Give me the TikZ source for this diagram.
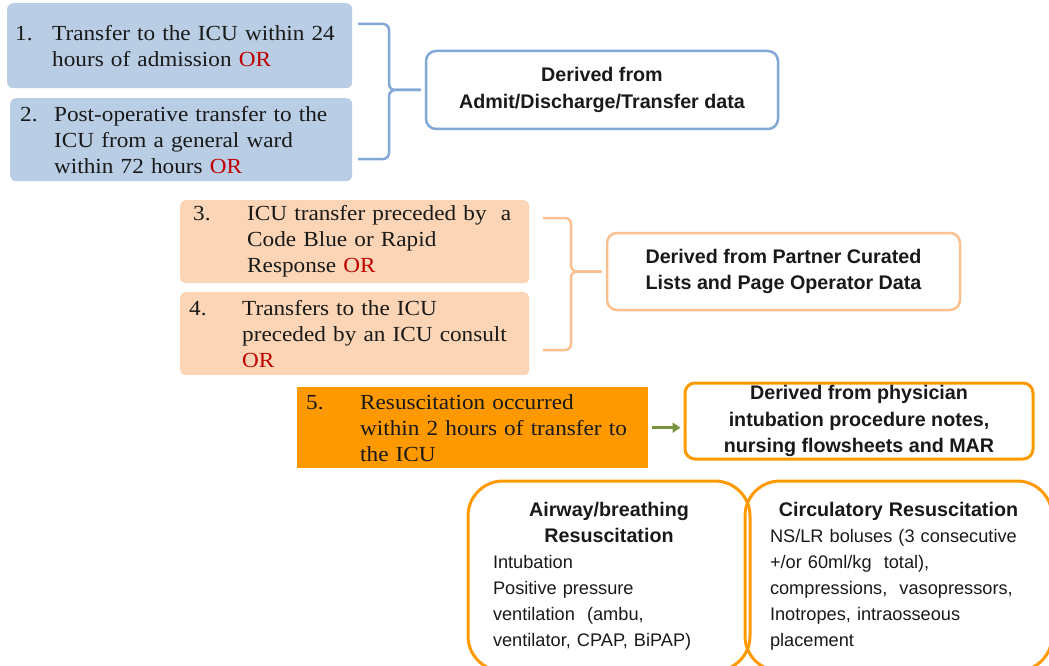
\documentclass[tikz,border=0pt]{standalone}
\usepackage{fontspec}
\setmainfont{Liberation Serif}[FakeStretch=1.08]
\setsansfont{Liberation Sans}
\usetikzlibrary{positioning,calc,arrows.meta}

\definecolor{critblue}{RGB}{185,205,228}
\definecolor{lineblue}{RGB}{130,168,214}
\definecolor{critpeach}{RGB}{251,213,181}
\definecolor{linepeach}{RGB}{250,192,144}
\definecolor{critorange}{RGB}{255,153,0}
\definecolor{arrgreen}{RGB}{119,147,60}
\definecolor{orred}{RGB}{192,0,0}

\newcommand{\OR}{\textcolor{orred}{OR}}
\newcommand{\critnum}[2]{\makebox[#1][l]{#2}}
\newcommand{\resushead}[2]{\makebox[#1]{\fontsize{19.7}{26}\selectfont\bfseries #2}}

\begin{document}
\begin{tikzpicture}[x=1pt, y=-1pt,
  crit/.style = {anchor=north west, inner ysep=0pt, align=left,
    font=\fontsize{21.5}{26}\selectfont, text=black!90},
  src/.style = {draw, line width=2.5pt, fill=white, rounded corners=10pt,
    inner sep=0pt, align=center, text=black!90,
    font=\sffamily\bfseries\fontsize{19.7}{26.5}\selectfont},
  resus/.style = {draw=critorange, line width=3pt, rounded corners=35pt,
    inner xsep=25pt, inner ysep=0pt, align=left, text=black!90,
    font=\sffamily\fontsize{18.2}{26}\selectfont,
    execute at begin node={\hyphenpenalty=10000\relax}},
  brace/.style = {line width=2.5pt, rounded corners=6pt, shorten >=4pt},
  arr/.style = {line width=3pt, arrgreen, -{Triangle[length=8pt,width=10pt]}}
  ]
  \useasboundingbox (0,0) rectangle (1049,666);
  \clip (0,0) rectangle (1049,666);

  % criteria
  \node (crit1) [crit, fill=critblue, rounded corners=6pt, inner xsep=8pt,
    text width=329pt, minimum height=85pt] at (7,3)
    {\critnum{37pt}{1.}Transfer to the ICU within 24\\
     \hspace*{37pt}hours of admission \OR};
  \node (crit2) [crit, fill=critblue, rounded corners=6pt, inner xsep=10pt,
    text width=322pt, minimum height=83pt] at (10,98)
    {\critnum{34pt}{2.}Post-operative transfer to the\\
     \hspace*{34pt}ICU from a general ward\\
     \hspace*{34pt}within 72 hours \OR};
  \node (crit3) [crit, fill=critpeach, rounded corners=5pt, inner xsep=13pt,
    text width=323pt, minimum height=83pt] at (180,200)
    {\critnum{54pt}{3.}ICU transfer preceded by\ \ a\\
     \hspace*{54pt}Code Blue or Rapid\\
     \hspace*{54pt}Response \OR};
  \node (crit4) [crit, fill=critpeach, rounded corners=5pt, inner xsep=9pt,
    text width=331pt, minimum height=83pt] at (180,292)
    {\critnum{53pt}{4.}Transfers to the ICU\\
     \hspace*{53pt}preceded by an ICU consult\\
     \hspace*{53pt}\OR};
  \node (res) [crit, fill=critorange, inner xsep=9pt,
    text width=333pt, minimum height=81pt] at (297,387)
    {\critnum{54pt}{5.}Resuscitation occurred\\
     \hspace*{54pt}within 2 hours of transfer to\\
     \hspace*{54pt}the ICU};

  % data sources
  \node (adt) [src, draw=lineblue, minimum width=352pt, minimum height=78pt]
    at (602,90) {Derived from\\Admit/Discharge/Transfer data};
  \node (pcl) [src, draw=linepeach, minimum width=353pt, minimum height=77pt]
    at (783.5,271.5) {Derived from Partner Curated\\Lists and Page Operator Data};
  \node (phy) [src, draw=critorange, line width=3pt, minimum width=348pt,
    minimum height=76pt] at (859,421)
    {Derived from physician\\intubation procedure notes,\\nursing flowsheets and MAR};

  % resuscitation types
  \node (air) [resus, text width=232pt, minimum height=190pt] at (609,576)
    {\resushead{232pt}{Airway/breathing}\\
     \resushead{232pt}{Resuscitation}\\
     Intubation\\
     Positive pressure\\
     ventilation\ \ (ambu,\\
     ventilator, CPAP, BiPAP)};
  \node (circ) [resus, text width=257pt, minimum height=190pt] at (898.5,576)
    {\resushead{257pt}{Circulatory Resuscitation}\\
     NS/LR boluses (3 consecutive\\
     +/or 60ml/kg\ \ total),\\
     compressions,\ \ vasopressors,\\
     Inotropes, intraosseous\\
     placement};

  \draw[brace, lineblue] (358,24) -| (389,90) -- (adt.west);
  \draw[brace, lineblue] (358,159) -| (389,90) -- (adt.west);
  \draw[brace, linepeach] (543,218) -| (571,271.5) -- (pcl.west);
  \draw[brace, linepeach] (543,350) -| (571,271.5) -- (pcl.west);
  \draw[arr, shorten <=4pt, shorten >=3pt] (res.east) -- (res.east -| phy.west);
\end{tikzpicture}
\end{document}
